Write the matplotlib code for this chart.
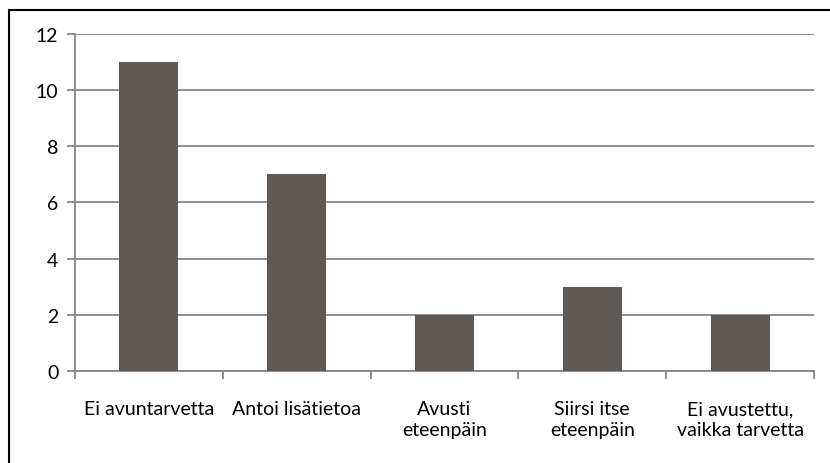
import matplotlib
matplotlib.use("Agg")
import matplotlib.pyplot as plt
from matplotlib.patches import Rectangle

categories = ["Ei avuntarvetta", "Antoi lisätietoa", "Avusti\neteenpäin",
              "Siirsi itse\neteenpäin", "Ei avustettu,\nvaikka tarvetta"]
values = [11, 7, 2, 3, 2]
yticks = [0, 2, 4, 6, 8, 10, 12]

plt.rcParams['font.family'] = ['Lato', 'DejaVu Sans']

fig = plt.figure(figsize=(8.30, 4.64), dpi=100)
ax = fig.add_axes([0.0904, 0.1983, 0.8903, 0.7263])

grid_c = "#868686"
bar_c = "#5E5954"
fs = 14
x = list(range(len(categories)))
ax.bar(x, values, width=0.4, color=bar_c, zorder=3)
ax.set_xlim(-0.5, len(categories) - 0.5)
ax.set_ylim(0, 12)
ax.set_yticks(yticks)
ax.set_yticklabels([str(v) for v in yticks], fontsize=fs)
ax.yaxis.grid(True, color=grid_c, linewidth=1.3, zorder=0)
ax.set_axisbelow(True)

ax.set_xticks(x)
ax.set_xticklabels(categories, fontsize=fs, linespacing=1.3, va='top')
ax.tick_params(axis='x', length=0, pad=21)
# category boundary ticks
ax.set_xticks([i - 0.5 for i in range(len(categories) + 1)], minor=True)
ax.tick_params(axis='x', which='minor', length=6, width=1.3, color=grid_c, direction='out')
ax.tick_params(axis='y', length=6, width=1.3, color=grid_c, pad=6)

for s in ['top', 'right']:
    ax.spines[s].set_visible(False)
for s in ['left', 'bottom']:
    ax.spines[s].set_color(grid_c)
    ax.spines[s].set_linewidth(1.3)

# outer chart border (top and left visible)
fig.patches.append(Rectangle((8.5 / 830, -0.1), 1.2, 453.5 / 464 + 0.1,
                             transform=fig.transFigure, fill=False,
                             edgecolor='black', linewidth=1.5))

fig.savefig("out.png", dpi=100)
